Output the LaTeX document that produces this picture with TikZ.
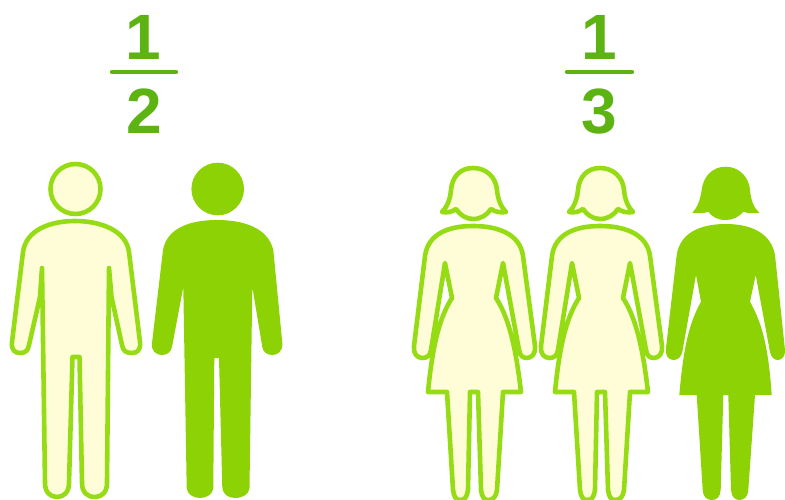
\documentclass[tikz,border=0pt]{standalone}
\usepackage{fontspec}
\setmainfont{Liberation Sans}
\definecolor{lineg}{HTML}{96DC14}
\definecolor{creamy}{HTML}{FEFDD8}
\definecolor{solidg}{HTML}{8DD205}
\definecolor{textg}{HTML}{5DB312}
\tikzset{
  outl/.style={draw=lineg,fill=creamy,line width=4.6pt,line join=round},
  sol/.style={fill=solidg},
  digit/.style={text=textg,font=\fontsize{64}{64}\selectfont\bfseries,inner sep=0pt},
  bar/.style={draw=textg,line width=4.4pt,line cap=round}
}
\newcommand{\manshape}{
 (75,221) .. controls (50,221) and (26,230) .. (23,252)
 -- (12,342) .. controls (11,350) and (15,353) .. (20,353) .. controls (25,353) and (28,351) .. (29,345)
 -- (40,297) -- (42,268) -- (45,483) .. controls (45,492) and (50,497) .. (57,497) .. controls (64,497) and (69,492) .. (69,483)
 -- (72.5,357) -- (79.5,357) -- (82,483) .. controls (82,492) and (87,497) .. (95,497) .. controls (102,497) and (107,492) .. (107,483)
 -- (109,268) -- (111.5,297) -- (122,345) .. controls (123,351) and (126,353) .. (132,353) .. controls (137,353) and (141,350) .. (140,342)
 -- (129,252) .. controls (126,230) and (100,221) .. (75,221) -- cycle}
\newcommand{\womanhair}{
 (473,168) .. controls (460,168) and (452,177) .. (451,190) .. controls (450,200) and (447,207) .. (442,212)
 .. controls (447,213) and (452,212) .. (456,209) .. controls (460,215) and (466,219) .. (473,219)
 .. controls (481,219) and (487,215) .. (491,209) .. controls (495,212) and (501,213) .. (506,212)
 .. controls (501,207) and (498,200) .. (497,190) .. controls (496,177) and (486,168) .. (473,168) -- cycle}
\newcommand{\womanbody}{
 (473,226) .. controls (448,226) and (428,234) .. (425,256)
 -- (414,346) .. controls (413,353) and (417,358) .. (422,358) .. controls (427,358) and (430,356) .. (431,350)
 -- (445,263) -- (452,298) .. controls (441,315) and (433,340) .. (428,392)
 -- (447,392) -- (453,490) .. controls (454,497) and (456,500) .. (460,500) .. controls (465,500) and (467,497) .. (468,490)
 -- (470,392) -- (478,392) -- (481,490) .. controls (482,497) and (484,500) .. (488,500) .. controls (493,500) and (496,497) .. (497,490)
 -- (503,392) -- (521,392) .. controls (515,340) and (507,315) .. (496,298)
 -- (503,263) -- (519,350) .. controls (520,356) and (523,358) .. (527,358) .. controls (532,358) and (536,353) .. (535,346)
 -- (523,256) .. controls (520,234) and (498,226) .. (473,226) -- cycle}
\begin{document}
\begin{tikzpicture}[x=1pt,y=-1pt]
\useasboundingbox (0,0) rectangle (785,500);
\node[digit] (n1) at (143.5,37) {1};
\node[digit] (d1) at (144,111.5) {2};
\node[digit] (n2) at (599,37) {1};
\node[digit] (d2) at (599.5,111.5) {3};
\draw[bar] (112,72) -- (176,72);
\draw[bar] (567,72) -- (632,72);
% outlined man
\draw[outl] (75.5,189) circle (25);
\path[outl] \manshape;
% solid man
\fill[sol] (217.7,189) circle (26.3);
\fill[sol] (217,220) .. controls (190,220) and (167,228) .. (163,250)
 -- (152,343) .. controls (151,351) and (156,355) .. (162,355) .. controls (167,355) and (171,352) .. (172,347)
 -- (183.3,287) -- (186.7,488) .. controls (187,494) and (193,498) .. (200,498) .. controls (207,498) and (213,494) .. (213.3,488)
 -- (214.3,358) -- (219,358) -- (222.3,488) .. controls (223,494) and (228,498) .. (235,498) .. controls (243,498) and (249,494) .. (249.5,488)
 -- (252.3,287) -- (262.3,347) .. controls (263,352) and (267,355) .. (272.3,355) .. controls (278,355) and (283,351) .. (282.3,343)
 -- (273.3,250) .. controls (268,228) and (244,220) .. (217,220) -- cycle;
% outlined women
\path[outl] \womanhair; \path[outl] \womanbody;
\begin{scope}[xshift=127pt]
\path[outl] \womanhair; \path[outl] \womanbody;
\end{scope}
% solid woman
\fill[sol] (725.7,166.7) .. controls (712,166.7) and (703,177) .. (701.7,190) .. controls (700,201) and (697,208) .. (692.3,212.7)
 .. controls (698,213.5) and (704,213.5) .. (708.3,211.7) .. controls (712,217) and (718,220) .. (725.7,220)
 .. controls (733,220) and (739,217) .. (743.3,211.7) .. controls (748,213.5) and (754,213.5) .. (759.3,212.7)
 .. controls (754,208) and (751,201) .. (750,190) .. controls (749,177) and (739,166.7) .. (725.7,166.7) -- cycle;
\fill[sol] (725.7,224) .. controls (700,224) and (680,233) .. (676.7,255)
 -- (666,348) .. controls (665,355) and (668,360) .. (673.3,360) .. controls (678,360) and (681,357) .. (682.3,352)
 -- (696,275) -- (701,301.7) .. controls (691,320) and (684,340) .. (679.3,395)
 -- (696.7,395) -- (702.7,490) .. controls (703,497) and (707,500) .. (711.7,500) .. controls (717,500) and (720,497) .. (720.7,490)
 -- (723.3,395) -- (728.3,395) -- (731,490) .. controls (731.5,497) and (735,500) .. (739.3,500) .. controls (744,500) and (748,497) .. (748.3,490)
 -- (755,395) -- (771.7,395) .. controls (768,340) and (760,320) .. (750,301.7)
 -- (755.7,275) -- (770,352) .. controls (771,357) and (774,360) .. (777.7,360) .. controls (782,360) and (785.5,356) .. (785,350)
 -- (775,255) .. controls (771,233) and (751,224) .. (725.7,224) -- cycle;
\end{tikzpicture}
\end{document}
